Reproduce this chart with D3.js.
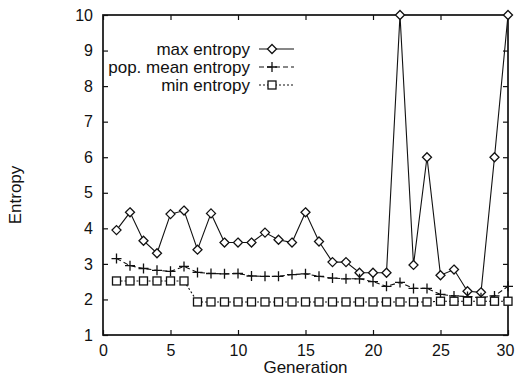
<!DOCTYPE html>
<html>
<head>
<meta charset="utf-8">
<script src="https://d3js.org/d3.v7.min.js"></script>
<style>
  body { margin: 0; background: #fff; }
  text { font-family: "Liberation Sans", Arial, sans-serif; fill: #111; }
</style>
</head>
<body>
<div class="chart"></div>
<script>
// generations 1..30
var generations = d3.range(1, 31);

var maxEntropy = [3.95, 4.45, 3.65, 3.3, 4.4, 4.5, 3.4, 4.42, 3.6, 3.6,
                  3.6, 3.88, 3.68, 3.6, 4.45, 3.63, 3.05, 3.05, 2.75, 2.75,
                  2.75, 10, 2.97, 6.0, 2.68, 2.84, 2.23, 2.2, 6.0, 10];

var meanEntropy = [3.15, 2.95, 2.87, 2.82, 2.79, 2.93, 2.76, 2.73, 2.72, 2.73,
                   2.66, 2.65, 2.65, 2.7, 2.72, 2.65, 2.6, 2.58, 2.58, 2.5,
                   2.37, 2.48, 2.31, 2.31, 2.14, 2.1, 2.08, 2.05, 2.1, 2.37];

var minEntropy = [2.52, 2.52, 2.52, 2.52, 2.52, 2.52, 1.93, 1.93, 1.93, 1.93,
                  1.93, 1.93, 1.93, 1.93, 1.93, 1.93, 1.93, 1.93, 1.93, 1.93,
                  1.93, 1.93, 1.93, 1.93, 1.95, 1.95, 1.95, 1.95, 1.95, 1.95];

var xTicks = [0, 5, 10, 15, 20, 25, 30];
var yTicks = [1, 2, 3, 4, 5, 6, 7, 8, 9, 10];

var legendLabels = ["max entropy", "pop. mean entropy", "min entropy"];

var W = 515, H = 379;
var margin = {left: 103, right: 7, top: 15, bottom: 44};
var fontSize = "17px";
var tickFont = "16px";

var svg = d3.select(".chart").append("svg")
    .attr("width", W)
    .attr("height", H);

var x = d3.scaleLinear().domain([0, 30]).range([margin.left, W - margin.right]);
var y = d3.scaleLinear().domain([1, 10]).range([H - margin.bottom, margin.top]);

var tickLen = 5;

// inward ticks on all four sides
var xAxisG = svg.append("g")
    .attr("transform", "translate(0," + y(1) + ")")
    .call(d3.axisBottom(x).tickValues(xTicks).tickSize(-tickLen).tickPadding(10))
    .call(g => g.select(".domain").remove());
svg.append("g")
    .attr("transform", "translate(0," + y(10) + ")")
    .call(d3.axisTop(x).tickValues(xTicks).tickSize(-tickLen).tickFormat(""))
    .call(g => g.select(".domain").remove());
svg.append("g")
    .attr("transform", "translate(" + x(0) + ",0)")
    .call(d3.axisLeft(y).tickValues(yTicks).tickSize(-tickLen).tickPadding(10))
    .call(g => g.select(".domain").remove());
svg.append("g")
    .attr("transform", "translate(" + x(30) + ",0)")
    .call(d3.axisRight(y).tickValues(yTicks).tickSize(-tickLen).tickFormat(""))
    .call(g => g.select(".domain").remove());

svg.selectAll(".tick line").attr("stroke", "#111").attr("stroke-width", 1.2);
svg.selectAll(".tick text")
    .style("font-size", tickFont)
    .style("font-family", "'Liberation Sans', Arial, sans-serif")
    .attr("fill", "#111");

// last x label sits right on the page edge, nudge it in a bit
xAxisG.selectAll(".tick text").filter(function (d) { return d == 30; })
    .attr("dx", -3);

// frame
svg.append("rect")
    .attr("x", x(0)).attr("y", y(10))
    .attr("width", x(30) - x(0)).attr("height", y(1) - y(10))
    .attr("fill", "none").attr("stroke", "#111").attr("stroke-width", 1.7);

// axis titles
svg.append("text")
    .attr("x", (x(0) + x(30)) / 2).attr("y", H - 6)
    .attr("text-anchor", "middle")
    .style("font-size", fontSize)
    .text("Generation");

svg.append("text")
    .attr("transform", "translate(21,195) rotate(-90)")
    .attr("text-anchor", "middle")
    .style("font-size", fontSize)
    .text("Entropy");

var line = d3.line()
    .x(function (d, i) { return x(generations[i]); })
    .y(function (d) { return y(d); });

var series = [
    {data: maxEntropy, dash: null, marker: "diamond"},
    {data: meanEntropy, dash: "5,3", marker: "plus"},
    {data: minEntropy, dash: "2,2", marker: "square"}
];

function drawMarker(g, type, cx, cy) {
    if (type == "diamond") {
        g.append("path")
            .attr("d", "M" + cx + "," + (cy - 4.5) + "L" + (cx + 4.5) + "," + cy + "L" + cx + "," + (cy + 4.5) + "L" + (cx - 4.5) + "," + cy + "Z")
            .attr("fill", "#fff").attr("stroke", "#111").attr("stroke-width", 1.3);
    } else if (type == "plus") {
        g.append("path")
            .attr("d", "M" + (cx - 5) + "," + cy + "H" + (cx + 5) + "M" + cx + "," + (cy - 5) + "V" + (cy + 5))
            .attr("stroke", "#111").attr("stroke-width", 1.3);
    } else {
        g.append("rect")
            .attr("x", cx - 4).attr("y", cy - 4).attr("width", 8).attr("height", 8)
            .attr("fill", "#fff").attr("stroke", "#111").attr("stroke-width", 1.3);
    }
}

series.forEach(function (s) {
    svg.append("path")
        .datum(s.data)
        .attr("d", line)
        .attr("fill", "none")
        .attr("stroke", "#111")
        .attr("stroke-width", 1.1)
        .attr("stroke-dasharray", s.dash);
    var mg = svg.append("g");
    s.data.forEach(function (v, i) {
        drawMarker(mg, s.marker, x(generations[i]), y(v));
    });
});

// legend
var legendY = [49, 67, 85];
series.forEach(function (s, i) {
    svg.append("text")
        .attr("x", 250).attr("y", legendY[i] + 6)
        .attr("text-anchor", "end")
        .style("font-size", fontSize)
        .text(legendLabels[i]);
    svg.append("line")
        .attr("x1", 259).attr("x2", 294)
        .attr("y1", legendY[i]).attr("y2", legendY[i])
        .attr("stroke", "#111").attr("stroke-width", 1.1)
        .attr("stroke-dasharray", s.dash);
    drawMarker(svg, s.marker, 272, legendY[i]);
});
</script>
</body>
</html>
